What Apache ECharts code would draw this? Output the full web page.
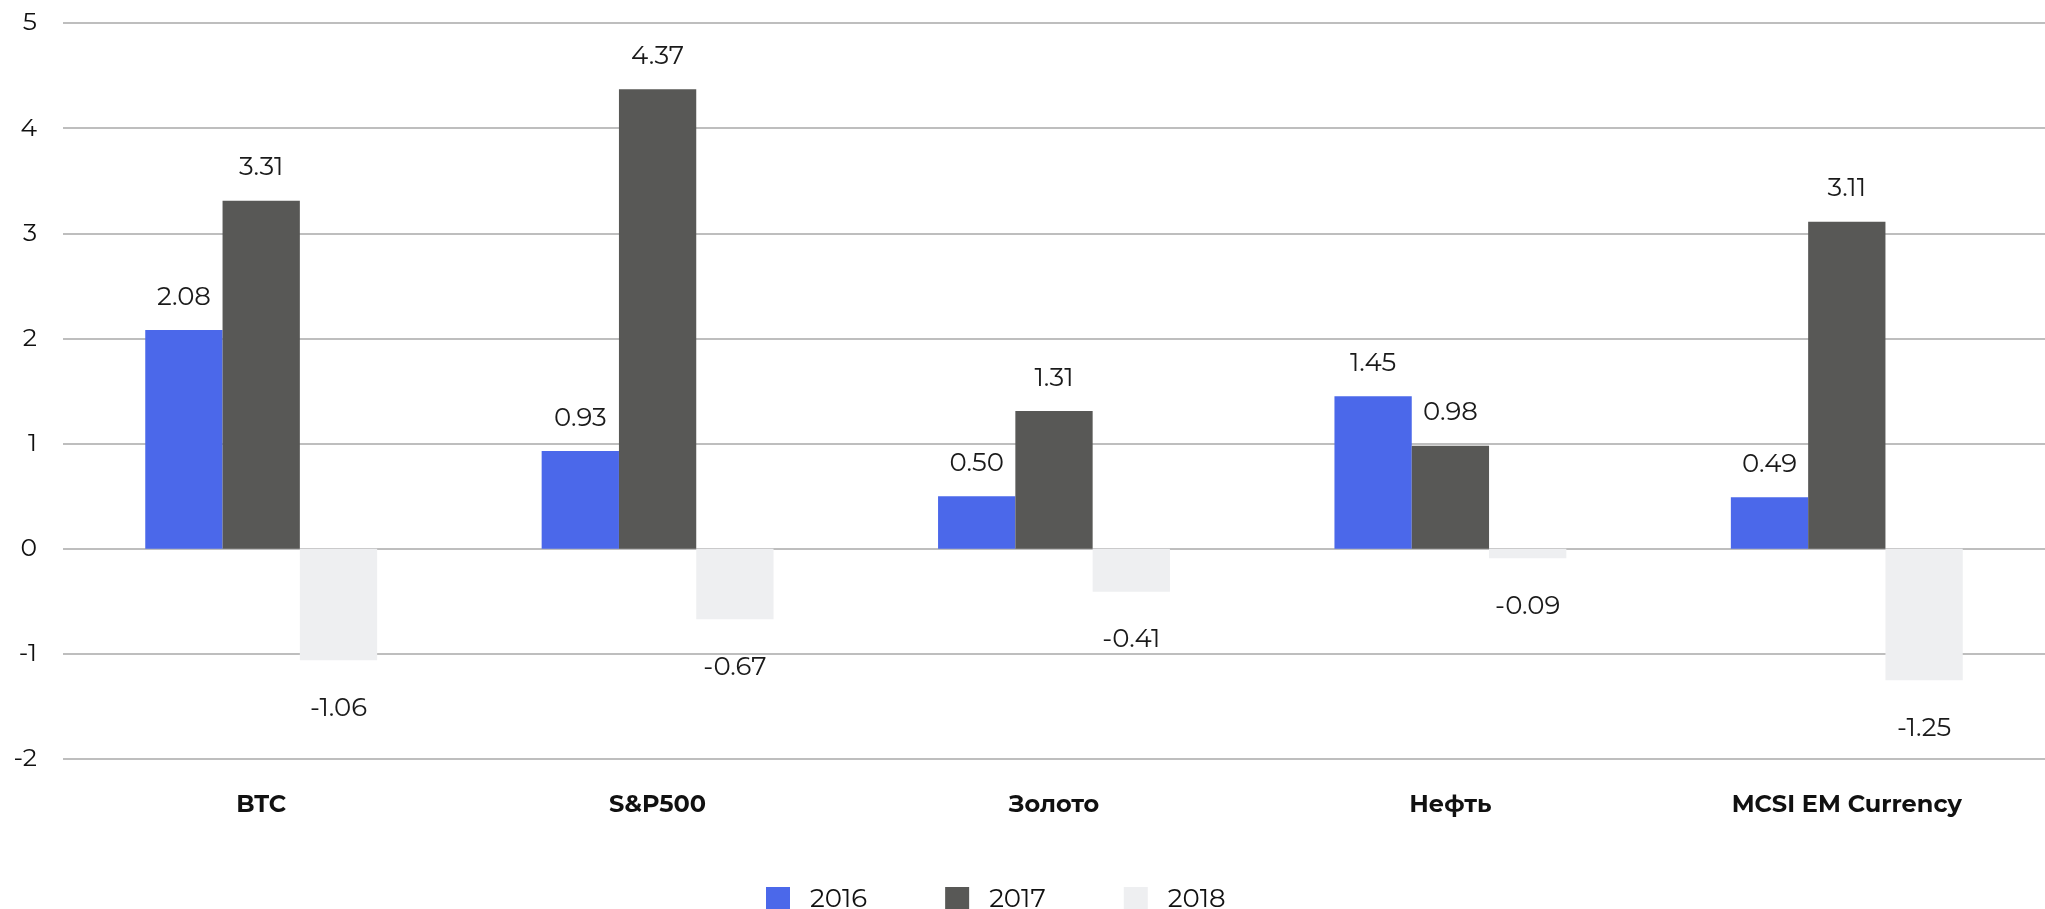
<!DOCTYPE html>
<html>
<head>
<meta charset="utf-8">
<title>Returns chart</title>
<script src="https://cdn.jsdelivr.net/npm/echarts@6/dist/echarts.min.js"></script>
<style>
    html, body { margin: 0; padding: 0; background: #ffffff; }
    #chart { width: 2045px; height: 909px; }
</style>
</head>
<body>
<div id="chart"></div>
<script>
// Categories on the x axis
const categories = ["BTC", "S&P500", "Золото", "Нефть", "MCSI EM Currency"];

// Series names (legend)
const seriesNames = ["2016", "2017", "2018"];

// Values per series
const values2016 = [2.08, 0.93, 0.50, 1.45, 0.49];
const values2017 = [3.31, 4.37, 1.31, 0.98, 3.11];
const values2018 = [-1.06, -0.67, -0.41, -0.09, -1.25];

// Y axis range
const yMin = -2;
const yMax = 5;
const yStep = 1;

// Colours
const colours = ["#4b68ea", "#585856", "#eeeff1"];

const fontFamily = "Montserrat, Inter, 'Open Sans', sans-serif";

// Build a bar series
function makeSeries(name, data, colour, distance) {
    return {
        name: name,
        type: "bar",
        barGap: "0%",
        barCategoryGap: "41.5%",
        itemStyle: {
            color: colour,
        },
        label: {
            show: true,
            position: "outside",
            distance: distance,
            color: "#1a1a1a",
            fontFamily: fontFamily,
            fontSize: 26,
            formatter: p => p.value.toFixed(2),
        },
        emphasis: { disabled: true },
        data: data,
    };
}

const chart = echarts.init(document.getElementById("chart"));

const option = {
    animation: false,
    color: colours,
    textStyle: { fontFamily: fontFamily },

    // GRID
    grid: {
        left: 63,
        right: 0,
        top: 23,
        bottom: 150,
        containLabel: false,
    },

    // XAXIS
    xAxis: {
        type: "category",
        data: categories,
        axisLine: { show: false },
        axisTick: { show: false },
        axisLabel: {
            margin: 34,
            color: "#111111",
            fontWeight: "bold",
            fontSize: 24,
            fontFamily: fontFamily,
        },
    },

    // YAXIS
    yAxis: {
        type: "value",
        min: yMin,
        max: yMax,
        interval: yStep,
        axisLine: { show: false },
        axisTick: { show: false },
        axisLabel: {
            margin: 26,
            color: "#111111",
            fontSize: 25,
            fontFamily: fontFamily,
        },
        splitLine: {
            lineStyle: { color: "#a8a8a8", width: 1.5 },
        },
    },

    // LEGEND
    legend: {
        top: 881,
        left: 761,
        icon: "rect",
        itemWidth: 24,
        itemHeight: 24,
        itemGap: 78,
        selectedMode: false,
        textStyle: {
            color: "#111111",
            fontSize: 26,
            fontFamily: fontFamily,
            padding: [0, 0, 0, 15],
        },
        data: seriesNames,
    },

    // SERIES
    series: [
        makeSeries(seriesNames[0], values2016, colours[0], 20),
        makeSeries(seriesNames[1], values2017, colours[1], 20),
        makeSeries(seriesNames[2], values2018, colours[2], 35),
    ],
};

chart.setOption(option);
</script>
</body>
</html>
